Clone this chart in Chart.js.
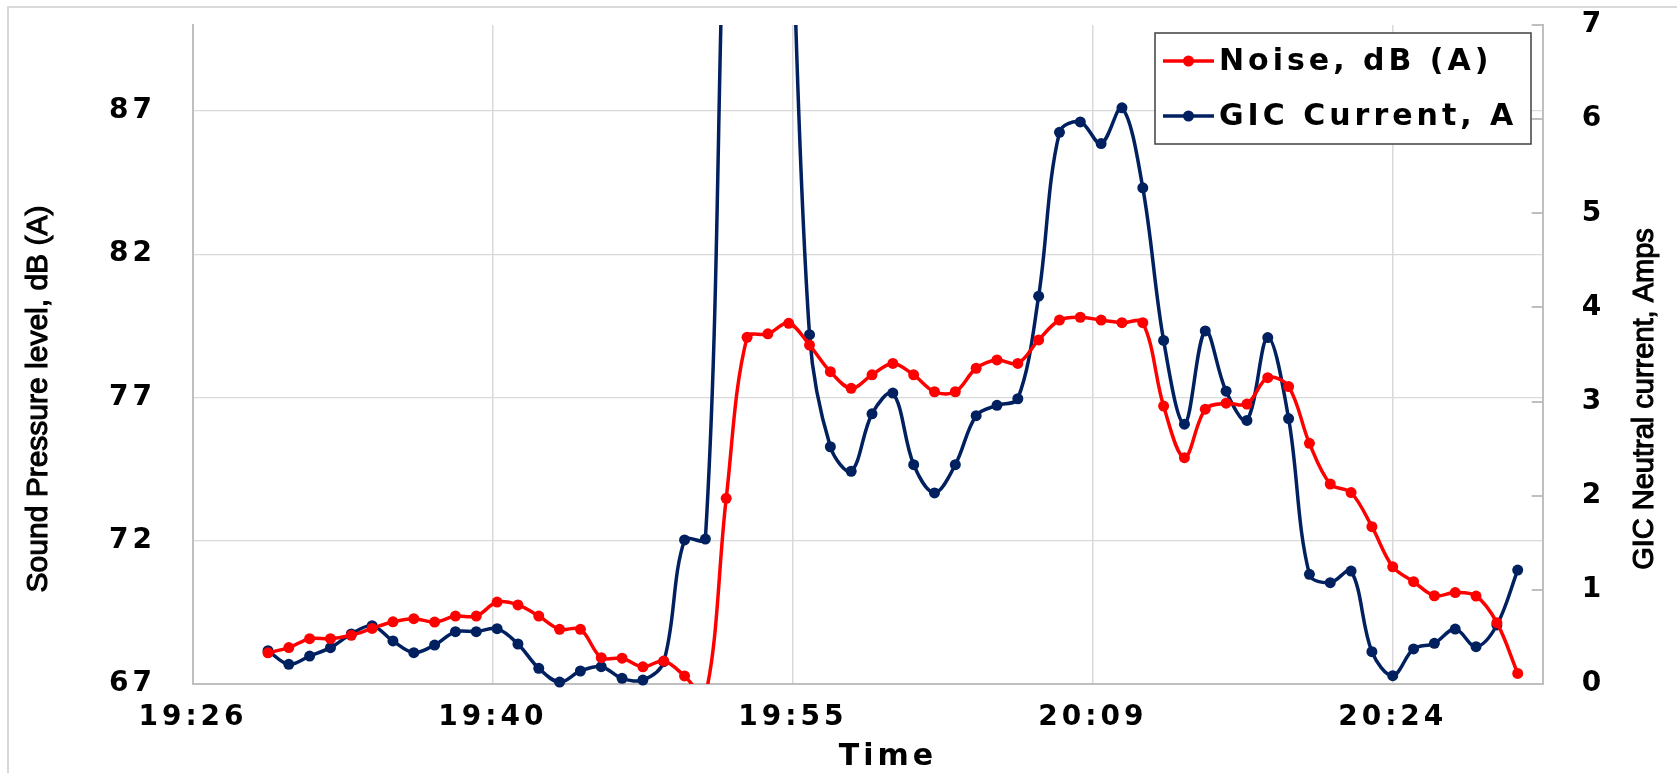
<!DOCTYPE html>
<html><head><meta charset="utf-8">
<script src="https://cdn.jsdelivr.net/npm/chart.js@4/dist/chart.umd.min.js"></script>
<style>html,body{margin:0;padding:0;background:#fff;overflow:hidden}#c{display:block}</style>
</head><body>
<canvas id="c" width="1677" height="773" style="width:1677px;height:773px"></canvas>
<script>
const times = ["19:30","19:31","19:32","19:33","19:34","19:35","19:36","19:37","19:38","19:39",
  "19:40","19:41","19:42","19:43","19:44","19:45","19:46","19:47","19:48","19:49",
  "19:50","19:51","19:52","19:53","19:54","19:55","19:56","19:57","19:58","19:59",
  "20:00","20:01","20:02","20:03","20:04","20:05","20:06","20:07","20:08","20:09",
  "20:10","20:11","20:12","20:13","20:14","20:15","20:16","20:17","20:18","20:19",
  "20:20","20:21","20:22","20:23","20:24","20:25","20:26","20:27","20:28","20:29","20:30"];
const noiseDb = [68.09,68.27,68.58,68.58,68.70,68.94,69.17,69.28,69.16,69.37,
  69.37,69.86,69.76,69.37,68.91,68.91,67.92,67.90,67.60,67.80,
  67.28,66.6,73.48,79.10,79.22,79.59,78.83,77.90,77.32,77.79,
  78.19,77.79,77.20,77.20,78.02,78.31,78.19,79.01,79.70,79.80,
  79.70,79.61,79.61,76.70,74.90,76.59,76.80,76.77,77.69,77.38,
  75.40,73.98,73.68,72.49,71.09,70.57,70.08,70.19,70.07,69.14,67.37];
const gicAmps = [0.354,0.209,0.297,0.386,0.531,0.619,0.457,0.333,0.414,0.556,
  0.556,0.588,0.425,0.166,0.02,0.138,0.184,0.06,0.042,0.237,
  1.53,1.54,9,13,13,9,3.71,2.52,2.26,2.87,
  3.09,2.33,2.03,2.33,2.85,2.96,3.03,4.12,5.86,5.97,
  5.74,6.12,5.27,3.65,2.76,3.75,3.11,2.80,3.68,2.82,
  1.165,1.076,1.20,0.343,0.088,0.372,0.432,0.584,0.396,0.627,1.21];
const xTickTimes = ["19:26:24","19:40:48","19:55:12","20:09:36","20:24:00"];
const xTickLabels = ["19:26","19:40","19:55","20:09","20:24"];
const xRange = ["19:26:24","20:31:12"];
const leftTicks = [67,72,77,82,87];
const leftRange = [67,90];
const rightTicks = [0,1,2,3,4,5,6,7];
const rightRange = [0,7];
const seriesNames = ["Noise, dB (A)","GIC Current, A"];
const xTitle = "Time";
const leftTitle = "Sound Pressure level, dB (A)";
const rightTitle = "GIC Neutral current, Amps";

function toMin(s){const p=s.split(':').map(Number);return p[0]*60+p[1]+(p[2]||0)/60;}

const RED='#FF0000', NAVY='#002060', GRID='#d9d9d9', AXIS='#bfbfbf';
const tickFont={family:'DejaVu Sans',weight:'bold',size:28};
const LS='4px';
const CLEAR='rgba(0,0,0,0)';

const framePlugin={
  id:'frame',
  beforeUpdate(chart){chart.ctx.letterSpacing=LS;},
  beforeDraw(chart){
    const c=chart.ctx;
    c.letterSpacing=LS;
    c.save();
    c.strokeStyle=GRID;c.lineWidth=2;
    c.strokeRect(8,7,1700,800);
    c.restore();
  },
  afterDraw(chart){
    const c=chart.ctx;
    c.save();
    const s=chart.scales.y2;
    c.strokeStyle=AXIS;c.lineWidth=2;
    rightTicks.forEach(v=>{const y=Math.round(s.getPixelForValue(v));c.beginPath();c.moveTo(s.left-11,y);c.lineTo(s.left,y);c.stroke();});
    c.letterSpacing='0px';
    c.fillStyle='#000';c.strokeStyle='#000';c.lineWidth=1.1;
    c.textAlign='center';c.textBaseline='middle';
    c.save();c.font='30px "Liberation Sans", Arial, sans-serif';
    c.translate(39,399);c.rotate(-Math.PI/2);c.fillText(leftTitle,0,0);c.strokeText(leftTitle,0,0);c.restore();
    c.save();c.font='29px "Liberation Sans", Arial, sans-serif';
    c.translate(1645,399);c.rotate(-Math.PI/2);c.fillText(rightTitle,0,0);c.strokeText(rightTitle,0,0);c.restore();
    c.save();c.letterSpacing=LS;c.font='bold 30px "DejaVu Sans"';
    c.fillText(xTitle,888,757);c.restore();
    const bx=1155,by=33,bw=376,bh=111;
    c.fillStyle='#fff';c.fillRect(bx,by,bw,bh);
    c.strokeStyle='#404040';c.lineWidth=1.5;c.strokeRect(bx,by,bw,bh);
    const rows=[61,116];
    chart.data.datasets.forEach((ds,i)=>{
      const y=rows[i];
      c.strokeStyle=ds.borderColor;c.lineWidth=3.5;
      c.beginPath();c.moveTo(1163,y);c.lineTo(1214,y);c.stroke();
      c.fillStyle=ds.borderColor;c.beginPath();c.arc(1188.5,y,5.5,0,Math.PI*2);c.fill();
      c.fillStyle='#000';c.textAlign='left';c.textBaseline='middle';
      c.letterSpacing='4px';c.font='bold 30px "DejaVu Sans"';
      c.fillText(ds.label,1219,y+1);
    });
    c.restore();
  }
};

new Chart(document.getElementById('c'),{
  type:'line',
  data:{datasets:[
    {label:seriesNames[0],data:times.map((t,i)=>({x:toMin(t),y:noiseDb[i]})),yAxisID:'y',
     borderColor:RED,backgroundColor:RED,borderWidth:3.5,pointRadius:5.5,pointHoverRadius:5.5,pointBorderWidth:0,
     tension:0.35,clip:{left:0,right:0,top:0,bottom:0}},
    {label:seriesNames[1],data:times.map((t,i)=>({x:toMin(t),y:gicAmps[i]})),yAxisID:'y2',
     borderColor:NAVY,backgroundColor:NAVY,borderWidth:3.5,pointRadius:5.5,pointHoverRadius:5.5,pointBorderWidth:0,
     tension:0.35,clip:{left:false,right:false,top:0,bottom:false}}
  ]},
  options:{
    responsive:false,animation:false,devicePixelRatio:1,
    layout:{padding:{top:25,left:0,right:0,bottom:0}},
    elements:{line:{capBezierPoints:false}},
    plugins:{legend:{display:false},tooltip:{enabled:false},title:{display:false}},
    scales:{
      x:{type:'linear',position:'bottom',min:toMin(xRange[0]),max:toMin(xRange[1]),
        afterBuildTicks:s=>{s.ticks=xTickTimes.map(t=>({value:toMin(t)}));},
        afterFit:s=>{s.height=89;},
        ticks:{callback:(v,i)=>xTickLabels[i],color:'#000',font:tickFont,padding:2,maxRotation:0,autoSkip:false},
        grid:{color:GRID,lineWidth:1.5,drawTicks:true,tickLength:15,tickColor:CLEAR},
        border:{color:AXIS,width:2}},
      y:{position:'left',min:leftRange[0],max:leftRange[1],
        afterBuildTicks:s=>{s.ticks=leftTicks.map(v=>({value:v}));},
        afterFit:s=>{s.width=193;},
        ticks:{color:'#000',font:tickFont,padding:3},
        grid:{color:GRID,lineWidth:1.2,drawTicks:true,tickLength:34,tickColor:CLEAR},
        border:{color:AXIS,width:2}},
      y2:{position:'right',min:rightRange[0],max:rightRange[1],
        afterBuildTicks:s=>{s.ticks=rightTicks.map(v=>({value:v}));},
        afterFit:s=>{s.width=134.3;},
        ticks:{color:'#000',font:tickFont,padding:3},
        grid:{drawOnChartArea:false,drawTicks:true,tickLength:36,tickColor:CLEAR},
        border:{color:AXIS,width:2}}
    }
  },
  plugins:[framePlugin]
});
</script>
</body></html>
